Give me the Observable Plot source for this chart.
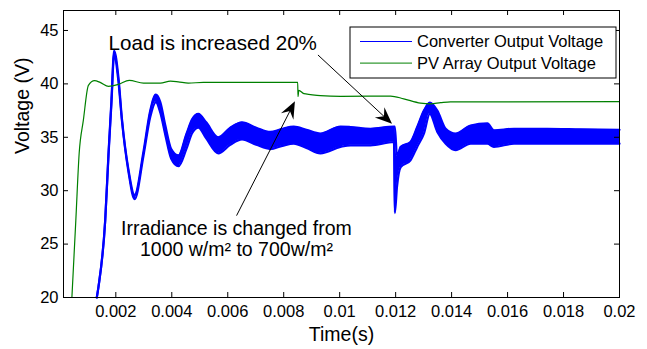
<!DOCTYPE html>
<html>
<head>
<meta charset="utf-8">
<script src="https://cdn.jsdelivr.net/npm/d3@7"></script>
<script src="https://cdn.jsdelivr.net/npm/@observablehq/plot@0.6"></script>
<style>
  body { margin: 0; background: #fff; }
  svg { font-family: "Liberation Sans", Arial, sans-serif; }
</style>
</head>
<body>
<div id="chart"></div>
<script>
// ---- Data ----
const xTicks = [0.002, 0.004, 0.006, 0.008, 0.01, 0.012, 0.014, 0.016, 0.018, 0.02];
const yTicks = [20, 25, 30, 35, 40, 45];
const xDomain = [0.00013, 0.02];
const yDomain = [20, 46.87];

const seriesNames = ["Converter Output Voltage", "PV Array Output Voltage"];
const seriesColors = ["#0000ff", "#008000"];

// Converter output voltage: lower / upper envelope of the ripple band
const blueT  = [0.00132, 0.00138, 0.00162, 0.00174, 0.00184, 0.00194, 0.00209, 0.00222, 0.00245, 0.00267,
                0.00299, 0.00323, 0.00343, 0.00359, 0.00377, 0.00398, 0.00424, 0.00452, 0.00473, 0.00495,
                0.00523, 0.00566, 0.00609, 0.00651, 0.00702, 0.00752, 0.00795, 0.00836, 0.00881, 0.00931,
                0.01003, 0.01039, 0.0111, 0.01194, 0.01197, 0.01205, 0.01218, 0.01253, 0.01277, 0.01301,
                0.01322, 0.01349, 0.01379, 0.01414, 0.01468, 0.01528, 0.01551, 0.01623, 0.01742, 0.0186, 0.02];
const blueLo = [20.0, 21.0, 27.2, 33.4, 38.0, 42.7, 40.3, 36.5, 31.8, 29.2,
                33.3, 36.9, 38.3, 37.3, 35.2, 33.0, 32.3, 33.9, 35.4, 35.9,
                34.9, 33.5, 34.3, 34.8, 34.3, 33.9, 34.2, 34.4, 34.0, 33.5,
                34.1, 34.25, 34.25, 34.56, 27.9, 30.4, 32.2, 32.85, 34.1, 35.35,
                37.2, 35.5, 34.4, 33.8, 34.4, 34.4, 34.1, 34.4, 34.4, 34.4, 34.4];
const blueHi = [20.0, 21.0, 27.2, 33.6, 38.3, 43.1, 40.7, 36.7, 32.0, 29.6,
                33.7, 37.5, 39.0, 38.3, 36.1, 33.9, 33.3, 35.3, 36.7, 37.2,
                36.4, 35.0, 35.9, 36.4, 35.9, 35.5, 35.8, 36.0, 35.7, 35.35,
                36.0, 35.96, 35.8, 36.0, 36.0, 33.2, 34.1, 34.56, 35.96, 37.5,
                38.24, 37.5, 35.8, 35.35, 36.1, 36.3, 35.65, 35.8, 35.8, 35.75, 35.7];

// PV array output voltage
const greenT = [0.00043, 0.00057, 0.00069, 0.00084, 0.00102, 0.00124, 0.00144, 0.00174, 0.00209, 0.00248,
                0.00299, 0.00359, 0.00395, 0.00423, 0.00459, 0.00513, 0.0085, 0.00851, 0.00854, 0.00872,
                0.00896, 0.00931, 0.01003, 0.01182, 0.01229, 0.01289, 0.01325, 0.01361, 0.01396, 0.02];
const greenV = [20.0, 27.2, 33.5, 36.6, 39.86, 40.3, 40.14, 39.77, 39.95, 40.33,
                40.07, 40.07, 40.25, 40.19, 40.07, 40.14, 40.14, 38.8, 39.4, 39.08,
                39.0, 38.9, 38.83, 38.86, 38.6, 38.2, 38.13, 38.24, 38.32, 38.33];

// Annotations (data coordinates)
const noteLoadText = "Load is increased 20%";
const noteLoadPos = [0.00174, 43.83];
const noteLoadArrow = [[0.009241, 42.66], [0.011889, 36.21]];
const noteIrrText = "Irradiance is changed from\n1000 w/m\u00b2 to 700w/m\u00b2";
const noteIrrPos = [0.00631, 25.5];
const noteIrrArrow = [[0.006333, 27.62], [0.008418, 38.32]];

// ---- Build tables ----
const blue = blueT.map((t, i) => ({t, lo: blueLo[i], hi: blueHi[i]}));
const green = greenT.map((t, i) => ({t, v: greenV[i]}));

const W = 647, H = 349;
const mL = 63, mR = 28, mT = 10, mB = 52;
const tickPx = 5;
const tickY = tickPx * (yDomain[1] - yDomain[0]) / (H - mT - mB);
const tickX = tickPx * (xDomain[1] - xDomain[0]) / (W - mL - mR);
const fmt = d => String(+d.toFixed(4));

const chart = Plot.plot({
  width: W, height: H,
  marginLeft: mL, marginRight: mR, marginTop: mT, marginBottom: mB,
  style: {fontSize: "16.5px", fontFamily: "'Liberation Sans', Arial, sans-serif", color: "#000", background: "#fff"},
  x: {domain: xDomain, ticks: xTicks, tickSize: 0, tickPadding: 8, tickFormat: fmt, label: null},
  y: {domain: yDomain, ticks: yTicks, tickSize: 0, tickPadding: 5, label: null},
  marks: [
    Plot.areaY(blue, {x: "t", y1: "lo", y2: "hi", fill: seriesColors[0], curve: "monotone-x"}),
    Plot.line(blue, {x: "t", y: "lo", stroke: seriesColors[0], strokeWidth: 2.2, curve: "monotone-x"}),
    Plot.line(blue, {x: "t", y: "hi", stroke: seriesColors[0], strokeWidth: 2.2, curve: "monotone-x"}),
    Plot.line(green, {x: "t", y: "v", stroke: seriesColors[1], strokeWidth: 1.2, curve: "monotone-x"}),
    // inward ticks on all four sides
    Plot.ruleX(xTicks, {y1: yDomain[0], y2: yDomain[0] + tickY, stroke: "#000"}),
    Plot.ruleX(xTicks, {y1: yDomain[1], y2: yDomain[1] - tickY, stroke: "#000"}),
    Plot.ruleY(yTicks, {x1: xDomain[0], x2: xDomain[0] + tickX, stroke: "#000"}),
    Plot.ruleY(yTicks, {x1: xDomain[1], x2: xDomain[1] - tickX, stroke: "#000"}),
    Plot.frame({stroke: "#000", strokeWidth: 1}),
    // annotations text
    Plot.text([noteLoadText], {x: noteLoadPos[0], y: noteLoadPos[1], textAnchor: "start", fontSize: 20.6, fill: "#000"}),
    Plot.text([noteIrrText], {x: noteIrrPos[0], y: noteIrrPos[1], textAnchor: "middle", fontSize: 19.5, lineHeight: 1.08, fill: "#000"}),
    // axis labels
    Plot.text(["Time(s)"], {frameAnchor: "bottom", dy: 43, fontSize: 19.5, fill: "#000"}),
    Plot.text(["Voltage (V)"], {frameAnchor: "left", dx: -41, rotate: -90, fontSize: 19.5, fill: "#000"})
  ]
});
document.getElementById("chart").appendChild(chart);

// ---- arrows (positions through the plot's scales) ----
const sx = chart.scale("x"), sy = chart.scale("y");
const svg = d3.select(chart);
function arrow(a) {
  const x1 = sx.apply(a[0][0]), y1 = sy.apply(a[0][1]);
  const x2 = sx.apply(a[1][0]), y2 = sy.apply(a[1][1]);
  const r = Math.atan2(y2 - y1, x2 - x1);
  const g = svg.append("g");
  g.append("line").attr("x1", x1).attr("y1", y1).attr("x2", x2 - 10 * Math.cos(r)).attr("y2", y2 - 10 * Math.sin(r))
    .attr("stroke", "#000").attr("stroke-width", 1);
  g.append("path").attr("d", "M0,0L-17,-7L-11,0L-17,7Z").attr("fill", "#000")
    .attr("transform", `translate(${x2},${y2}) rotate(${r * 180 / Math.PI})`);
}
arrow(noteLoadArrow);
arrow(noteIrrArrow);

// ---- legend ----
const lg = svg.append("g").attr("transform", "translate(350,27)");
lg.append("rect").attr("width", 266).attr("height", 51).attr("fill", "#fff").attr("stroke", "#000").attr("stroke-width", 1);
seriesNames.forEach((name, i) => {
  const y = 14.5 + i * 21.6;
  lg.append("line").attr("x1", 10).attr("x2", 62).attr("y1", y).attr("y2", y).attr("stroke", seriesColors[i]).attr("stroke-width", 1);
  lg.append("text").attr("x", 67).attr("y", y).attr("dy", "0.35em").attr("text-anchor", "start")
    .attr("font-size", "16.5px").attr("fill", "#000").text(name);
});
</script>
</body>
</html>
